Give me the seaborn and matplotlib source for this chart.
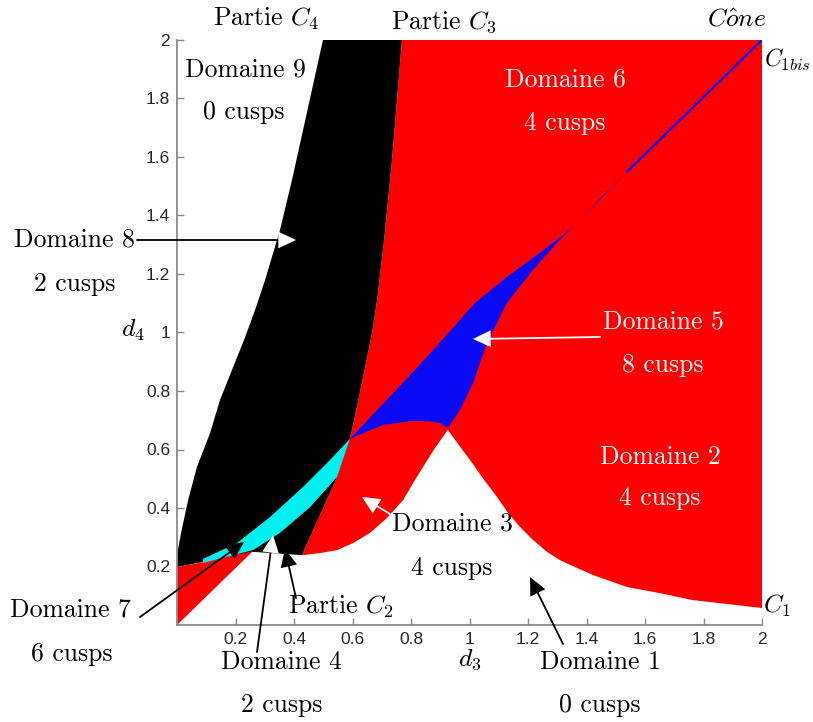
import numpy as np
import matplotlib
matplotlib.use("Agg")
import matplotlib.pyplot as plt
import seaborn as sns

# -----------------------------
# DATA (in d3 / d4 units)
# -----------------------------
# Domaine 8 (black): left edge (Partie C4), top -> bottom
d8_left_d3 = [0.499, 0.465, 0.431, 0.393, 0.352, 0.301, 0.267, 0.229, 0.188,
              0.147, 0.113, 0.068, 0.038, 0.014, 0.003, 0.0]
d8_left_d4 = [2.0, 1.846, 1.692, 1.521, 1.350, 1.179, 1.077, 0.974, 0.872,
              0.769, 0.656, 0.540, 0.427, 0.315, 0.256, 0.198]
# bottom of the black part (Partie C2)
d8_bottom_d3 = [0.260, 0.427]
d8_bottom_d4 = [0.250, 0.239]
# black / red boundary (Partie C3), bottom -> top
c3_d3 = [0.427, 0.489, 0.547, 0.591, 0.615, 0.643, 0.667, 0.684, 0.708, 0.735, 0.752, 0.769]
c3_d4 = [0.239, 0.376, 0.506, 0.636, 0.745, 0.882, 0.998, 1.111, 1.316, 1.590, 1.795, 2.0]

# lower edge of Domaine 2 (C1), right -> apex
c1_d3 = [2.0, 1.880, 1.764, 1.651, 1.538, 1.422, 1.361, 1.309, 1.265, 1.217,
         1.173, 1.132, 1.094, 1.050, 1.002, 0.964, 0.926]
c1_d4 = [0.058, 0.072, 0.085, 0.109, 0.130, 0.171, 0.198, 0.222, 0.250, 0.291,
         0.335, 0.383, 0.438, 0.496, 0.564, 0.615, 0.667]
# lower edge of Domaine 3, apex -> left
d3_low_d3 = [0.926, 0.882, 0.841, 0.807, 0.773, 0.718, 0.660, 0.602, 0.547, 0.489, 0.431]
d3_low_d4 = [0.667, 0.605, 0.540, 0.485, 0.427, 0.366, 0.315, 0.280, 0.256, 0.246, 0.239]

# red wedge at the origin
wedge_d3 = [0.0, 0.0, 0.089, 0.260]
wedge_d4 = [0.0, 0.198, 0.215, 0.253]

# Domaine 7 (cyan): upper edge left -> right, lower edge right -> left
d7_up_d3 = [0.089, 0.205, 0.318, 0.431, 0.523, 0.591]
d7_up_d4 = [0.226, 0.280, 0.369, 0.472, 0.564, 0.636]
d7_low_d3 = [0.547, 0.455, 0.352, 0.260, 0.089]
d7_low_d4 = [0.506, 0.403, 0.315, 0.256, 0.212]

# Domaine 5 (blue)
d5_left_d3 = [0.591, 0.814, 0.906, 1.019, 1.128, 1.241, 1.354, 1.446, 1.538]
d5_left_d4 = [0.636, 0.872, 0.974, 1.101, 1.190, 1.272, 1.361, 1.453, 1.549]
d5_right_d3 = [1.456, 1.378, 1.299, 1.217, 1.128, 1.060, 1.012, 0.968, 0.926]
d5_right_d4 = [1.467, 1.385, 1.306, 1.214, 1.101, 0.964, 0.827, 0.735, 0.674]
d5_bottom_d3 = [0.899, 0.855, 0.797, 0.704, 0.646]
d5_bottom_d4 = [0.691, 0.697, 0.697, 0.684, 0.660]

# cone line C1bis
c1bis_d3 = [1.538, 2.0]
c1bis_d4 = [1.549, 2.0]

tick_vals = [0.2, 0.4, 0.6, 0.8, 1.0, 1.2, 1.4, 1.6, 1.8, 2.0]
tick_labels = ["0.2", "0.4", "0.6", "0.8", "1", "1.2", "1.4", "1.6", "1.8", "2"]

RED = "#ff0000"
BLUE = "#0a0af5"
CYAN = "#00f0f0"

# -----------------------------
# STYLE
# -----------------------------
sns.set_theme(style="ticks")
plt.rcParams["font.family"] = ["Liberation Sans", "DejaVu Sans"]
plt.rcParams["mathtext.fontset"] = "cm"

W, H = 813, 722
fig = plt.figure(figsize=(W / 100, H / 100), dpi=100)
ax = fig.add_axes([177 / W, 1 - 625 / H, 585 / W, 585 / H])

# -----------------------------
# REGIONS
# -----------------------------
red_x = [c3_d3[-1], 2.0] + c1_d3 + d3_low_d3 + c3_d3
red_y = [2.0, 2.0] + c1_d4 + d3_low_d4 + c3_d4
ax.fill(red_x, red_y, color=RED, lw=0)

black_x = d8_left_d3 + d8_bottom_d3 + c3_d3
black_y = d8_left_d4 + d8_bottom_d4 + c3_d4
ax.fill(black_x, black_y, color="black", lw=0)

ax.fill(wedge_d3, wedge_d4, color=RED, lw=0)
ax.fill(d7_up_d3 + d7_low_d3, d7_up_d4 + d7_low_d4, color=CYAN, lw=0)
ax.fill(d5_left_d3 + d5_right_d3 + d5_bottom_d3,
        d5_left_d4 + d5_right_d4 + d5_bottom_d4, color=BLUE, lw=0)
sns.lineplot(x=c1bis_d3, y=c1bis_d4, ax=ax, color=BLUE, lw=1.6)

# -----------------------------
# AXES
# -----------------------------
ax.set_xlim(0, 2)
ax.set_ylim(0, 2)
ax.set_xticks(tick_vals)
ax.set_xticklabels(tick_labels)
ax.set_yticks(tick_vals)
ax.set_yticklabels(tick_labels)
ax.tick_params(direction="in", length=5, width=1, color="#8a8a8a",
               labelsize=12.5, labelcolor="#262626", pad=5)
for s in ["top", "right"]:
    ax.spines[s].set_visible(False)
for s in ["left", "bottom"]:
    ax.spines[s].set_color("#8a8a8a")
    ax.spines[s].set_linewidth(1.3)
ax.set_xlabel("")
ax.set_ylabel("")


# -----------------------------
# TEXT + ARROWS (positions in reference pixels)
# -----------------------------
def label(x, y, s, color="black", size=18.5):
    fig.text(x / W, 1 - y / H, s, color=color, ha="center", va="center",
             fontsize=size, family="cmr10")


def arrow(start, tip, line_color, head_color, hl=17):
    s = np.array([start[0], H - start[1]], float)
    t = np.array([tip[0], H - tip[1]], float)
    u = (t - s) / np.hypot(*(t - s))
    base = t - u * hl
    ax.annotate("", xy=tuple(base), xytext=tuple(s), xycoords="figure pixels",
                textcoords="figure pixels", annotation_clip=False,
                arrowprops=dict(arrowstyle="-", color=line_color, lw=1.3,
                                shrinkA=0, shrinkB=0))
    ax.annotate("", xy=tuple(t), xytext=tuple(base), xycoords="figure pixels",
                textcoords="figure pixels", annotation_clip=False,
                arrowprops=dict(arrowstyle="-|>,head_length=0.85,head_width=0.4",
                                color=head_color, lw=0, mutation_scale=15,
                                shrinkA=0, shrinkB=0))


label(266, 19, r"Partie $C_4$")
label(444, 22, r"Partie $C_3$")
label(737, 20, r"$C\hat{o}ne$")
label(787, 60, r"$C_{\mathit{1bis}}$", size=17)
label(777, 606, r"$C_1$")
label(341, 607, r"Partie $C_2$")
label(470, 660, r"$d_3$")
label(133, 330, r"$d_4$")

label(245, 70, "Domaine 9")
label(244, 112, "0 cusps")
label(565, 80, "Domaine 6", "white")
label(565, 123, "4 cusps", "white")
label(663, 322, "Domaine 5", "white")
label(663, 365, "8 cusps", "white")
label(660, 457, "Domaine 2", "white")
label(660, 498, "4 cusps", "white")
label(452, 524, "Domaine 3")
label(452, 568, "4 cusps")
label(74, 240, "Domaine 8")
label(75, 284, "2 cusps")
label(70, 610, "Domaine 7")
label(72, 654, "6 cusps")
label(281, 662, "Domaine 4")
label(282, 705, "2 cusps")
label(600, 662, "Domaine 1")
label(600, 705, "0 cusps")

arrow((137, 240), (296, 240), "black", "white")
arrow((600, 337), (473, 339), "white", "white")
arrow((390, 514), (362, 497), "white", "white")
arrow((140, 617), (244, 542), "black", "black")
arrow((257, 652), (273, 535), "black", "white")
arrow((296, 598), (285, 549), "black", "black")
arrow((563, 644), (530, 577), "black", "black")

fig.savefig("out.png", dpi=100)
